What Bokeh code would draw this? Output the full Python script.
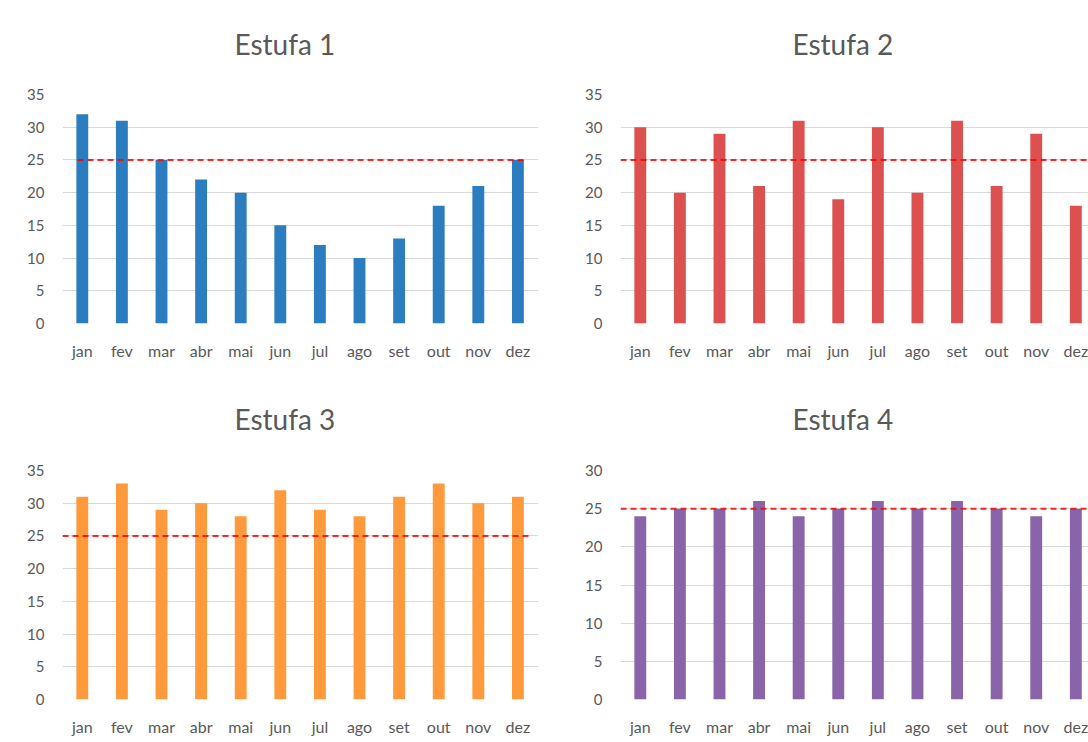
from bokeh.plotting import figure
from bokeh.layouts import column, row
from bokeh.models import Range1d, FixedTicker, Title
from bokeh.embed import file_html
from bokeh.resources import INLINE

months = ["jan", "fev", "mar", "abr", "mai", "jun", "jul", "ago", "set", "out", "nov", "dez"]
estufa1 = [32, 31, 25, 22, 20, 15, 12, 10, 13, 18, 21, 25]
estufa2 = [30, 20, 29, 21, 31, 19, 30, 20, 31, 21, 29, 18]
estufa3 = [31, 33, 29, 30, 28, 32, 29, 28, 31, 33, 30, 31]
estufa4 = [24, 25, 25, 26, 24, 25, 26, 25, 26, 25, 24, 25]
titles = ["Estufa 1", "Estufa 2", "Estufa 3", "Estufa 4"]
colors = ["#2B7DBF", "#DC5050", "#FE9A3B", "#8964A8"]
y_max = [35, 35, 35, 30]
target = 25
# horizontal extent of each dashed target line, in month-index units
target_from = [-0.12, -0.5, -0.5, -0.5]
target_to = [11.2, 11.4, 11.27, 11.4]

FONT = "Lato"
TXT = "#595959"
GRID = "#D9D9D9"


def make_chart(k):
    values = [estufa1, estufa2, estufa3, estufa4][k]
    ymax = y_max[k]
    left_col = k % 2 == 0
    top_row = k < 2
    xpos = list(range(len(months)))
    if left_col:
        width, bl, br = 570, 62, 32
        x_end = 11.52
    else:
        width, bl, br = 518, 50, 0
        x_end = 11.32
    if top_row:
        height, bt, bb, sp = 380, 94, 57, 31
    else:
        height, bt, bb, sp = 362, 90, 43, 32
    p = figure(width=width, height=height, output_backend="svg", toolbar_location=None,
               x_range=Range1d(-0.5, x_end), y_range=Range1d(0, ymax),
               min_border_left=bl, min_border_right=br, min_border_top=bt, min_border_bottom=bb)
    p.title = None
    # blank spacer between frame and title
    p.add_layout(Title(text=" ", text_font_size="1px", standoff=sp), "above")
    t = Title(text=titles[k], align="left", offset=172, text_font=FONT, text_font_size="28px",
              text_color=TXT, text_font_style="normal", standoff=0)
    p.add_layout(t, "above")
    p.vbar(x=xpos, top=values, width=0.3, color=colors[k], line_color=None)
    p.line(x=[target_from[k], target_to[k]], y=[target, target], line_color="#FF0000",
           line_width=2, line_alpha=0.85, line_dash="6 4")

    p.outline_line_color = None
    p.background_fill_color = "white"
    p.border_fill_color = "white"
    p.xgrid.grid_line_color = None
    p.ygrid.grid_line_color = GRID
    p.ygrid.grid_line_width = 1
    p.yaxis.ticker = FixedTicker(ticks=list(range(0, ymax + 1, 5)))
    p.xaxis.ticker = FixedTicker(ticks=xpos)
    p.xaxis.major_label_overrides = {i: m for i, m in zip(xpos, months)}
    for ax in (p.xaxis[0], p.yaxis[0]):
        ax.axis_line_color = None
        ax.major_tick_line_color = None
        ax.minor_tick_line_color = None
        ax.major_tick_out = 0
        ax.major_tick_in = 0
        ax.major_label_text_font = FONT
        ax.major_label_text_color = TXT
    p.xaxis.major_label_text_font_size = "16px"
    p.yaxis.major_label_text_font_size = "15px"
    p.xaxis.major_label_standoff = 17
    p.yaxis.major_label_standoff = 18
    return p


plots = [make_chart(k) for k in range(4)]

layout = column(row(plots[0], plots[1]), row(plots[2], plots[3]))
open("out.html", "w").write(file_html(layout, INLINE))
